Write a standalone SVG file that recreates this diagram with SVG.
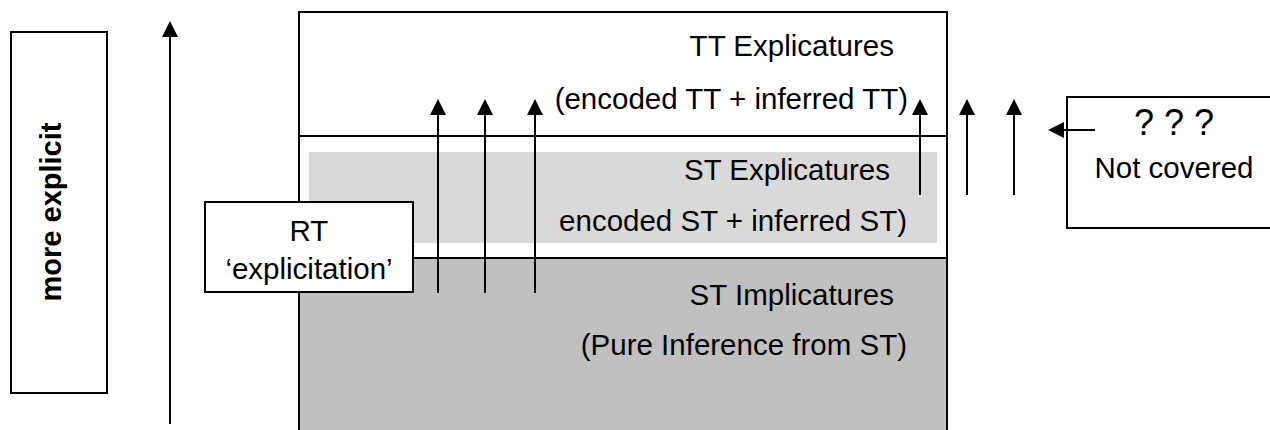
<svg xmlns="http://www.w3.org/2000/svg" width="1270" height="430" viewBox="0 0 1270 430">
  <style>
    .box { fill: #ffffff; stroke: #000000; stroke-width: 2; }
    .sep { stroke: #000000; stroke-width: 2; fill: none; }
    .conn { stroke: #000000; stroke-width: 2; fill: none; marker-end: url(#head); }
    .t { font-family: "Liberation Sans", Arial, sans-serif; font-size: 29.5px; fill: #000000; }
    .end { text-anchor: end; }
    .mid { text-anchor: middle; }
    .bold { font-weight: bold; font-size: 29px; }
  </style>
  <defs>
    <marker id="head" markerUnits="userSpaceOnUse" markerWidth="16" markerHeight="16" refX="8" refY="8" orient="auto" viewBox="0 0 16 16">
      <path d="M0,0 L16,8 L0,16 z" fill="#000000"/>
    </marker>
  </defs>

  <rect width="1270" height="430" fill="#ffffff"/>

  <!-- left label box -->
  <g id="more-explicit">
    <rect class="box" x="11" y="32" width="96" height="361"/>
    <text class="t mid bold" transform="translate(61,212) rotate(-90)" x="0" y="0">more explicit</text>
  </g>

  <!-- main layered box -->
  <g id="layers">
    <rect x="299" y="12" width="648" height="430" fill="#ffffff" stroke="#000000" stroke-width="2"/>
    <rect x="300" y="258" width="646" height="180" fill="#c0c0c0"/>
    <rect x="309" y="152" width="628" height="91" fill="#d9d9d9"/>
    <line class="sep" x1="299" y1="136" x2="947" y2="136"/>
    <line class="sep" x1="299" y1="258" x2="947" y2="258"/>
    <line class="sep" x1="299" y1="12" x2="299" y2="432"/>
    <line class="sep" x1="947" y1="12" x2="947" y2="432"/>
  </g>

  <g id="tt-explicatures">
    <text class="t end" x="894" y="56">TT Explicatures</text>
    <text class="t end" x="908" y="109">(encoded TT + inferred TT)</text>
  </g>

  <g id="st-explicatures">
    <text class="t end" x="890" y="180">ST Explicatures</text>
    <text class="t end" x="907" y="231">encoded ST + inferred ST)</text>
  </g>

  <g id="st-implicatures">
    <text class="t end" x="894" y="305">ST Implicatures</text>
    <text class="t end" x="907" y="355">(Pure Inference from ST)</text>
  </g>

  <!-- RT box -->
  <g id="rt-explicitation">
    <rect class="box" x="205" y="202" width="208" height="90"/>
    <text class="t mid" x="309" y="241">RT</text>
    <text class="t mid" x="309" y="279">‘explicitation’</text>
  </g>

  <!-- not covered box -->
  <g id="not-covered">
    <rect class="box" x="1067" y="97" width="215" height="131"/>
    <text class="t mid" x="1174" y="135" style="font-size:36px">? ? ?</text>
    <text class="t mid" x="1174" y="178">Not covered</text>
  </g>

  <!-- connectors -->
  <g id="connectors">
    <line class="conn" x1="170" y1="424" x2="170" y2="29"/>
    <line class="conn" x1="438" y1="293" x2="438" y2="107"/>
    <line class="conn" x1="485" y1="293" x2="485" y2="107"/>
    <line class="conn" x1="535" y1="293" x2="535" y2="107"/>
    <line class="conn" x1="920" y1="195" x2="920" y2="107"/>
    <line class="conn" x1="967" y1="195" x2="967" y2="107"/>
    <line class="conn" x1="1014" y1="195" x2="1014" y2="107"/>
    <line class="conn" x1="1095" y1="130" x2="1056" y2="130"/>
  </g>
</svg>
